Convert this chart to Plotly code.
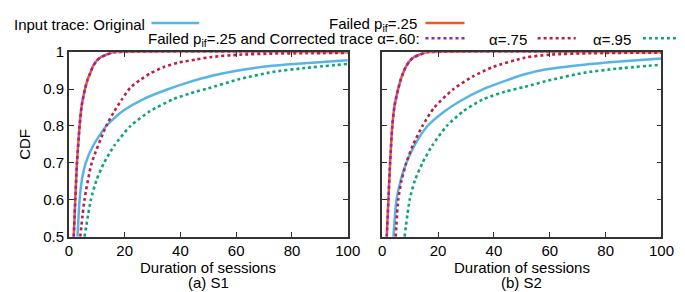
import plotly.graph_objects as go

# ---------------- data ----------------
# Panel (a) S1
s1_orig_x = [3.1, 3.85, 4.66, 6.06, 8.74, 13.4, 19.2, 26.8, 35.0, 42.0, 51.3, 61.2, 72.9, 84.6, 100]
s1_orig_y = [0.5, 0.6, 0.653, 0.7, 0.747, 0.8, 0.84, 0.873, 0.898, 0.916, 0.936, 0.951, 0.963, 0.970, 0.978]
s1_fail_x = [1.75, 2.3, 2.9, 3.85, 4.6, 5.8, 6.6, 7.6, 8.6, 9.9, 11.2, 13.4, 14.8, 16.3, 100]
s1_fail_y = [0.5, 0.6, 0.7, 0.8, 0.855, 0.9, 0.923, 0.942, 0.961, 0.976, 0.985, 0.993, 0.997, 1.0, 1.0]
s1_a60_x = [1.75, 2.3, 2.9, 3.85, 4.6, 5.8, 6.6, 7.6, 8.6, 9.9, 11.2, 13.4, 14.8, 16.3, 100]
s1_a60_y = [0.5, 0.6, 0.7, 0.8, 0.855, 0.9, 0.923, 0.942, 0.961, 0.976, 0.985, 0.993, 0.997, 1.0, 1.0]
s1_a75_x = [4.1, 5.6, 8.2, 13.4, 16.3, 19.2, 22.1, 25.6, 29.1, 33.8, 39.6, 45.5, 51.3, 61.2, 72.9, 85, 100]
s1_a75_y = [0.5, 0.6, 0.7, 0.8, 0.84, 0.874, 0.904, 0.925, 0.942, 0.959, 0.972, 0.980, 0.987, 0.993, 0.996, 0.997, 0.998]
s1_a95_x = [5.6, 7.9, 9.9, 12.6, 16.3, 22.1, 29.1, 37.3, 45.5, 49.5, 61.2, 72.9, 84.6, 100]
s1_a95_y = [0.5, 0.6, 0.653, 0.7, 0.747, 0.8, 0.84, 0.872, 0.893, 0.901, 0.927, 0.946, 0.957, 0.968]

# Panel (b) S2
s2_orig_x = [4.0, 5.1, 6.6, 8.6, 11.5, 16.2, 22.0, 27.8, 36.0, 44.0, 51.0, 58.3, 72.2, 83.8, 100]
s2_orig_y = [0.5, 0.6, 0.653, 0.7, 0.747, 0.8, 0.838, 0.867, 0.899, 0.922, 0.940, 0.953, 0.966, 0.974, 0.983]
s2_fail_x = [1.6, 2.2, 2.8, 3.6, 4.4, 5.7, 6.5, 7.4, 8.5, 9.8, 11.1, 13.3, 14.7, 16.2, 100]
s2_fail_y = [0.5, 0.6, 0.7, 0.8, 0.855, 0.9, 0.923, 0.942, 0.961, 0.976, 0.985, 0.993, 0.997, 1.0, 1.0]
s2_a60_x = [1.6, 2.2, 2.8, 3.6, 4.4, 5.7, 6.5, 7.4, 8.5, 9.8, 11.1, 13.3, 14.7, 16.2, 100]
s2_a60_y = [0.5, 0.6, 0.7, 0.8, 0.855, 0.9, 0.923, 0.942, 0.961, 0.976, 0.985, 0.993, 0.997, 1.0, 1.0]
s2_a75_x = [4.8, 5.7, 6.9, 8.6, 10.9, 14.4, 18.5, 25.5, 32.4, 39.4, 51.0, 60.0, 75.0, 100]
s2_a75_y = [0.5, 0.6, 0.653, 0.7, 0.747, 0.8, 0.849, 0.9, 0.934, 0.959, 0.985, 0.993, 0.997, 0.999]
s2_a95_x = [8.0, 9.8, 11.7, 14.4, 17.9, 23.1, 29.0, 36.0, 44.0, 51.0, 60.6, 72.2, 83.8, 100]
s2_a95_y = [0.5, 0.6, 0.653, 0.7, 0.747, 0.8, 0.84, 0.872, 0.893, 0.906, 0.925, 0.944, 0.955, 0.966]

x_ticks = [0, 20, 40, 60, 80, 100]
y_ticks = [0.5, 0.6, 0.7, 0.8, 0.9, 1.0]
y_tick_labels = ["0.5", "0.6", "0.7", "0.8", "0.9", "1"]
panel_titles = ["(a) S1", "(b) S2"]

# ---------------- styling ----------------
W, H = 685, 292
FONT = "Liberation Sans, Arial, sans-serif"
FS = 15
C_ORIG = "#56B4E9"
C_FAIL = "#EE5A24"
C_A60 = "#9126B6"
C_A75 = "#BE1E45"
C_A95 = "#0FA37A"
DOT = "3px,3px"

def px(x):
    return x / W

def py(y):
    return 1 - y / H

fig = go.Figure()

panels = [
    dict(xa="x", ya="y", data=[(s1_orig_x, s1_orig_y), (s1_fail_x, s1_fail_y), (s1_a60_x, s1_a60_y),
                               (s1_a75_x, s1_a75_y), (s1_a95_x, s1_a95_y)]),
    dict(xa="x2", ya="y2", data=[(s2_orig_x, s2_orig_y), (s2_fail_x, s2_fail_y), (s2_a60_x, s2_a60_y),
                                 (s2_a75_x, s2_a75_y), (s2_a95_x, s2_a95_y)]),
]
styles = [
    dict(color=C_ORIG, width=2.5),
    dict(color=C_FAIL, width=2.5),
    dict(color=C_A60, width=2.6, dash=DOT),
    dict(color=C_A75, width=2.6, dash=DOT),
    dict(color=C_A95, width=2.6, dash=DOT),
]
for p in panels:
    for (xs, ys), st in zip(p["data"], styles):
        fig.add_trace(go.Scatter(x=xs, y=ys, mode="lines",
                                 line=dict(shape="spline", smoothing=0.6, **st),
                                 xaxis=p["xa"], yaxis=p["ya"],
                                 showlegend=False, hoverinfo="skip"))

ydom = [py(233.3), py(37.3)]
axis_common = dict(showline=True, linecolor="#333333", linewidth=1.5, mirror="allticks",
                   ticks="inside", ticklen=5, tickwidth=1, tickcolor="#333333",
                   showgrid=False, zeroline=False,
                   tickfont=dict(family=FONT, size=FS, color="black"))
fig.update_layout(
    width=W, height=H, margin=dict(l=0, r=0, t=0, b=0),
    paper_bgcolor="white", plot_bgcolor="white",
    font=dict(family=FONT, size=FS, color="black"),
    xaxis=dict(domain=[px(58.3), px(344.3)], range=[0, 100], tickvals=x_ticks, anchor="y", **axis_common),
    yaxis=dict(domain=ydom, range=[0.5, 1.0], tickvals=y_ticks, ticktext=y_tick_labels, anchor="x", **axis_common),
    xaxis2=dict(domain=[px(379.7), px(666)], range=[0, 100], tickvals=x_ticks, anchor="y2", **axis_common),
    yaxis2=dict(domain=ydom, range=[0.5, 1.0], tickvals=y_ticks, showticklabels=False, anchor="x2", **axis_common),
)

ann = []
for cx, cap in [((58.3 + 344.3) / 2, panel_titles[0]), ((379.7 + 666) / 2, panel_titles[1])]:
    ann.append(dict(x=px(cx), y=py(265.5), text="Duration of sessions", showarrow=False,
                    xref="paper", yref="paper", xanchor="center", yanchor="middle"))
    ann.append(dict(x=px(cx), y=py(281.5), text=cap, showarrow=False,
                    xref="paper", yref="paper", xanchor="center", yanchor="middle"))
ann.append(dict(x=px(12), y=py(135), text="CDF", textangle=-90, showarrow=False,
                xref="paper", yref="paper", xanchor="center", yanchor="middle"))

key_items = [
    ("Input trace: Original", 138, 8, 143, 192, styles[0]),
    ("Failed p<sub>if</sub>=.25", 417, 8, 424, 464, styles[1]),
    ("Failed p<sub>if</sub>=.25 and Corrected trace \u03b1=.60:", 420, 24, 424, 464, styles[2]),
    ("\u03b1=.75", 530, 24, 539, 578, styles[3]),
    ("\u03b1=.95", 637, 24, 647, 687, styles[4]),
]
shapes = []
for text, tx, ty, x0, x1, st in key_items:
    ann.append(dict(x=px(tx), y=py(ty), text=text, showarrow=False, xref="paper", yref="paper",
                    xanchor="right", yanchor="middle"))
    line = dict(color=st["color"], width=st["width"])
    if "dash" in st:
        line["dash"] = st["dash"]
    shapes.append(dict(type="line", xref="paper", yref="paper", x0=px(x0), x1=px(x1),
                       y0=py(ty - 1.5), y1=py(ty - 1.5), line=line))

fig.update_layout(annotations=ann, shapes=shapes)
fig.write_html("out.html")
